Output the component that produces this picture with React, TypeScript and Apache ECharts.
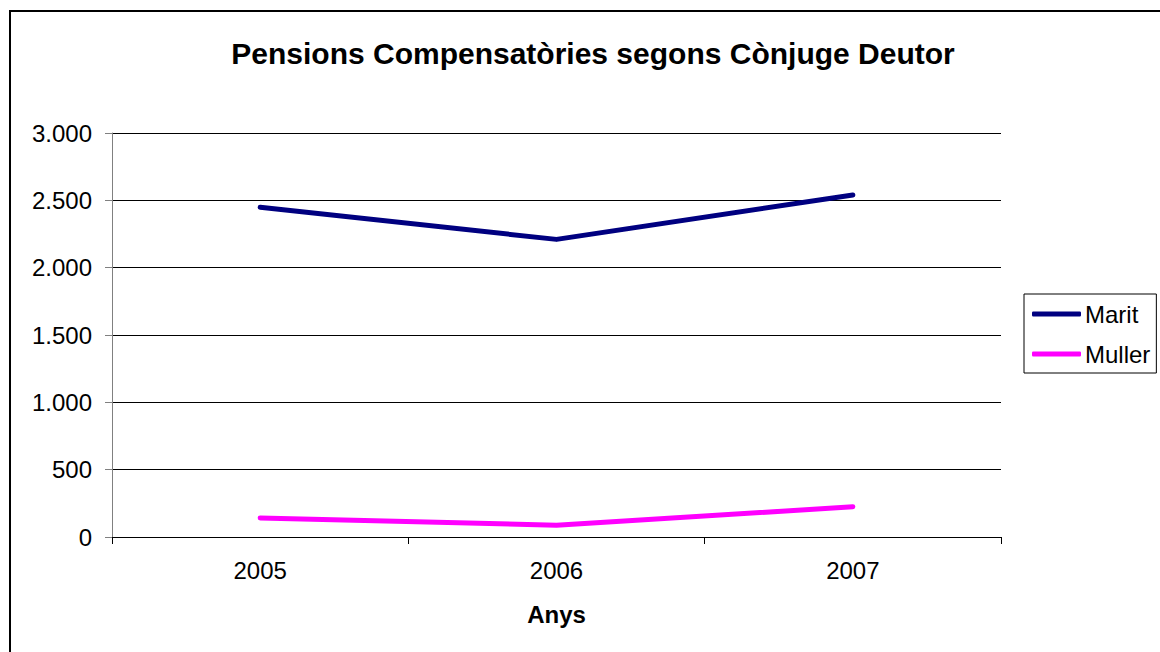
import React, { useEffect, useRef } from "react";
import * as echarts from "echarts";

const years = ["2005", "2006", "2007"];
const marit = [2448, 2210, 2540];
const muller = [142, 87, 225];
const seriesNames = ["Marit", "Muller"];
const titleText = "Pensions Compensatòries segons Cònjuge Deutor";
const xAxisName = "Anys";

const FONT = "'Liberation Sans', Arial, sans-serif";

function fmt(v: number): string {
  return String(v).replace(/\B(?=(\d{3})+(?!\d))/g, ".");
}

export default function App() {
  const ref = useRef<HTMLDivElement>(null);
  useEffect(() => {
    document.body.style.margin = "0";
    if (!ref.current) return;
    const chart = echarts.init(ref.current, undefined, { renderer: "svg" });
    chart.setOption({
      animation: false,
      backgroundColor: "#fff",
      textStyle: { fontFamily: FONT },
      graphic: [
        {
          type: "rect",
          shape: { x: 10, y: 11, width: 1170, height: 670 },
          style: { fill: "none", stroke: "#000", lineWidth: 2 },
          silent: true,
          z: 100,
        },
      ],
      title: {
        text: titleText,
        left: 588,
        textAlign: "center",
        top: 33,
        textStyle: { fontFamily: FONT, fontSize: 30, fontWeight: "bold", color: "#000" },
      },
      legend: {
        orient: "vertical",
        left: 1024,
        top: 294,
        data: seriesNames,
        icon: "roundRect",
        itemWidth: 49,
        itemHeight: 5,
        itemGap: 16,
        padding: [8, 6, 7, 8],
        borderColor: "#000",
        borderWidth: 1,
        textStyle: { fontFamily: FONT, fontSize: 24, color: "#000", padding: [0, 0, 0, -1], lineHeight: 24 },
      },
      grid: { left: 112, right: 159, top: 133, bottom: 115, containLabel: false },
      xAxis: {
        type: "category",
        data: years,
        boundaryGap: true,
        name: xAxisName,
        nameLocation: "middle",
        nameGap: 65,
        nameTextStyle: { fontFamily: FONT, fontSize: 24, fontWeight: "bold", color: "#000" },
        axisLine: { lineStyle: { color: "#000", width: 1 } },
        axisTick: { show: true, alignWithLabel: false, length: 7, lineStyle: { color: "#000" } },
        axisLabel: { fontFamily: FONT, fontSize: 24, color: "#000", margin: 21 },
        splitLine: { show: false },
      },
      yAxis: {
        type: "value",
        min: 0,
        max: 3000,
        interval: 500,
        axisLine: { show: true, lineStyle: { color: "#808080", width: 1 } },
        axisTick: { show: true, length: 7, lineStyle: { color: "#808080" } },
        axisLabel: {
          fontFamily: FONT,
          fontSize: 24,
          color: "#000",
          margin: 20,
          formatter: (v: number) => fmt(v),
        },
        splitLine: { show: true, lineStyle: { color: "#000", width: 1 } },
      },
      series: [
        {
          name: seriesNames[0],
          type: "line",
          data: marit,
          symbol: "none",
          color: "#000080",
          lineStyle: { color: "#000080", width: 5, cap: "round", join: "round" },
        },
        {
          name: seriesNames[1],
          type: "line",
          data: muller,
          symbol: "none",
          color: "#FF00FF",
          lineStyle: { color: "#FF00FF", width: 5, cap: "round", join: "round" },
        },
      ],
    });
    return () => chart.dispose();
  }, []);
  return <div ref={ref} style={{ width: 1160, height: 652 }} />;
}
